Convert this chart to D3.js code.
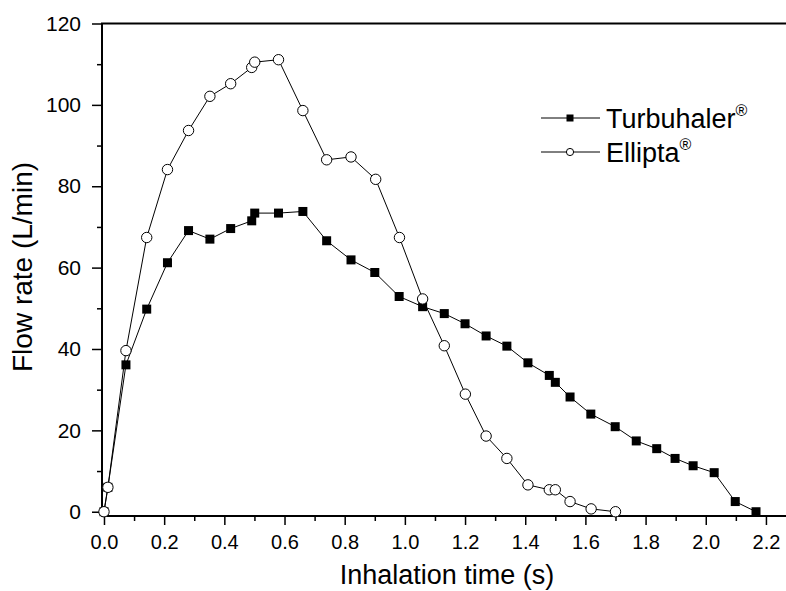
<!DOCTYPE html>
<html>
<head>
<meta charset="utf-8">
<script src="https://cdn.jsdelivr.net/npm/d3@7"></script>
<style>
  body { margin: 0; background: #fff; }
  text { font-family: "Liberation Sans", Arial, sans-serif; fill: #000; }
</style>
</head>
<body>
<script>
// time (s) and flow rate (L/min)
let turboTime = [0, 0.013, 0.073, 0.142, 0.211, 0.281, 0.352, 0.421, 0.491, 0.501, 0.580, 0.661, 0.740, 0.821, 0.900, 0.981, 1.059, 1.131, 1.200, 1.270, 1.339, 1.409, 1.480, 1.500, 1.549, 1.618, 1.699, 1.769, 1.837, 1.898, 1.958, 2.028, 2.098, 2.167];
let turboFlow = [0, 6.0, 36.1, 49.8, 61.2, 69.1, 67.0, 69.6, 71.5, 73.4, 73.4, 73.8, 66.6, 61.9, 58.8, 52.9, 50.4, 48.7, 46.2, 43.2, 40.7, 36.6, 33.5, 31.8, 28.2, 24.0, 20.9, 17.4, 15.5, 13.1, 11.3, 9.6, 2.5, 0];

let elliptaTime = [0, 0.013, 0.073, 0.142, 0.211, 0.281, 0.352, 0.421, 0.491, 0.501, 0.580, 0.661, 0.740, 0.821, 0.903, 0.982, 1.059, 1.131, 1.201, 1.270, 1.339, 1.409, 1.480, 1.500, 1.549, 1.619, 1.700];
let elliptaFlow = [0, 6.0, 39.6, 67.4, 84.1, 93.7, 102.1, 105.2, 109.2, 110.5, 111.1, 98.6, 86.5, 87.2, 81.7, 67.4, 52.3, 40.8, 28.9, 18.6, 13.1, 6.6, 5.4, 5.4, 2.5, 0.7, 0];

let xTicks = [0, 0.2, 0.4, 0.6, 0.8, 1.0, 1.2, 1.4, 1.6, 1.8, 2.0, 2.2];
let yTicks = [0, 20, 40, 60, 80, 100, 120];

let w = 786;
let h = 591;

let svg = d3.select('body')
			.append('svg')
			.attr('width', w)
			.attr('height', h);

let xScale = d3.scaleLinear()
			.domain([-0.0066, 2.27])
			.range([102, 787]);

let yScale = d3.scaleLinear()
			.domain([-1.05, 120])
			.range([516, 23.5]);

let zip = (xs, ys) => xs.map((x, i) => [x, ys[i]]);
let turbo = zip(turboTime, turboFlow);
let ellipta = zip(elliptaTime, elliptaFlow);

// minor ticks first, then the labelled ones on top
let xMinor = d3.range(0.1, 2.3, 0.2);
let yMinor = d3.range(10, 120, 20);

svg.append('g')
   .attr('transform', 'translate(0,516)')
   .call(d3.axisBottom(xScale).tickValues(xMinor).tickSize(5).tickFormat(''))
   .call(g => g.select('.domain').remove())
   .selectAll('line').attr('stroke-width', 1.5);

svg.append('g')
   .attr('transform', 'translate(102,0)')
   .call(d3.axisLeft(yScale).tickValues(yMinor).tickSize(5).tickFormat(''))
   .call(g => g.select('.domain').remove())
   .selectAll('line').attr('stroke-width', 1.5);

let xAxis = svg.append('g')
   .attr('transform', 'translate(0,516)')
   .call(d3.axisBottom(xScale).tickValues(xTicks).tickSize(9).tickPadding(10).tickFormat(d3.format('.1f')));
xAxis.select('.domain').remove();
xAxis.selectAll('line').attr('stroke-width', 1.5);
xAxis.selectAll('text')
	 .style('font-size', '20px')
	 .attr('fill', '#000');

let yAxis = svg.append('g')
   .attr('transform', 'translate(102,0)')
   .call(d3.axisLeft(yScale).tickValues(yTicks).tickSize(10).tickPadding(11));
yAxis.select('.domain').remove();
yAxis.selectAll('line').attr('stroke-width', 1.5);
yAxis.selectAll('text')
	 .style('font-size', '21px')
	 .attr('fill', '#000');

// frame: left, bottom, top
svg.append('line').attr('x1', 102).attr('x2', 102).attr('y1', 23.5).attr('y2', 516.5)
   .attr('stroke', '#000').attr('stroke-width', 2);
svg.append('line').attr('x1', 101).attr('x2', w).attr('y1', 516).attr('y2', 516)
   .attr('stroke', '#000').attr('stroke-width', 2);
svg.append('line').attr('x1', 101).attr('x2', w).attr('y1', 23.5).attr('y2', 23.5)
   .attr('stroke', '#000').attr('stroke-width', 2);

let line = d3.line()
			.x(d => xScale(d[0]))
			.y(d => yScale(d[1]));

svg.append('path').datum(turbo)
   .attr('d', line).attr('fill', 'none').attr('stroke', '#000').attr('stroke-width', 1);
svg.append('path').datum(ellipta)
   .attr('d', line).attr('fill', 'none').attr('stroke', '#000').attr('stroke-width', 1);

svg.selectAll('rect.turbo')
   .data(turbo)
   .enter()
   .append('rect')
   .attr('class', 'turbo')
   .attr('x', d => xScale(d[0]) - 4.5)
   .attr('y', d => yScale(d[1]) - 4.5)
   .attr('width', 9)
   .attr('height', 9)
   .attr('fill', '#000');

svg.selectAll('circle.ellipta')
   .data(ellipta)
   .enter()
   .append('circle')
   .attr('class', 'ellipta')
   .attr('cx', d => xScale(d[0]))
   .attr('cy', d => yScale(d[1]))
   .attr('r', 5.2)
   .attr('fill', '#fff')
   .attr('stroke', '#000')
   .attr('stroke-width', 1);

// legend
let legend = svg.append('g');
let names = ['Turbuhaler', 'Ellipta'];
names.forEach((name, i) => {
	let y = 118 + i * 34;
	legend.append('line').attr('x1', 541).attr('x2', 600).attr('y1', y).attr('y2', y)
		  .attr('stroke', '#000').attr('stroke-width', 1);
	if (i == 0) {
		legend.append('rect').attr('x', 566.5).attr('y', y - 3.5).attr('width', 7).attr('height', 7).attr('fill', '#000');
	} else {
		legend.append('circle').attr('cx', 570).attr('cy', y).attr('r', 3.6)
			  .attr('fill', '#fff').attr('stroke', '#000');
	}
	let t = legend.append('text').attr('x', 606).attr('y', y + 10).style('font-size', '27px');
	t.append('tspan').text(name);
	t.append('tspan').attr('dy', -12).style('font-size', '16px').text('®');
});

svg.append('text')
   .attr('transform', 'translate(32,267) rotate(-90)')
   .attr('text-anchor', 'middle')
   .style('font-size', '28px')
   .text('Flow rate (L/min)');

svg.append('text')
   .attr('x', 447)
   .attr('y', 584)
   .attr('text-anchor', 'middle')
   .style('font-size', '27px')
   .text('Inhalation time (s)');
</script>
</body>
</html>
